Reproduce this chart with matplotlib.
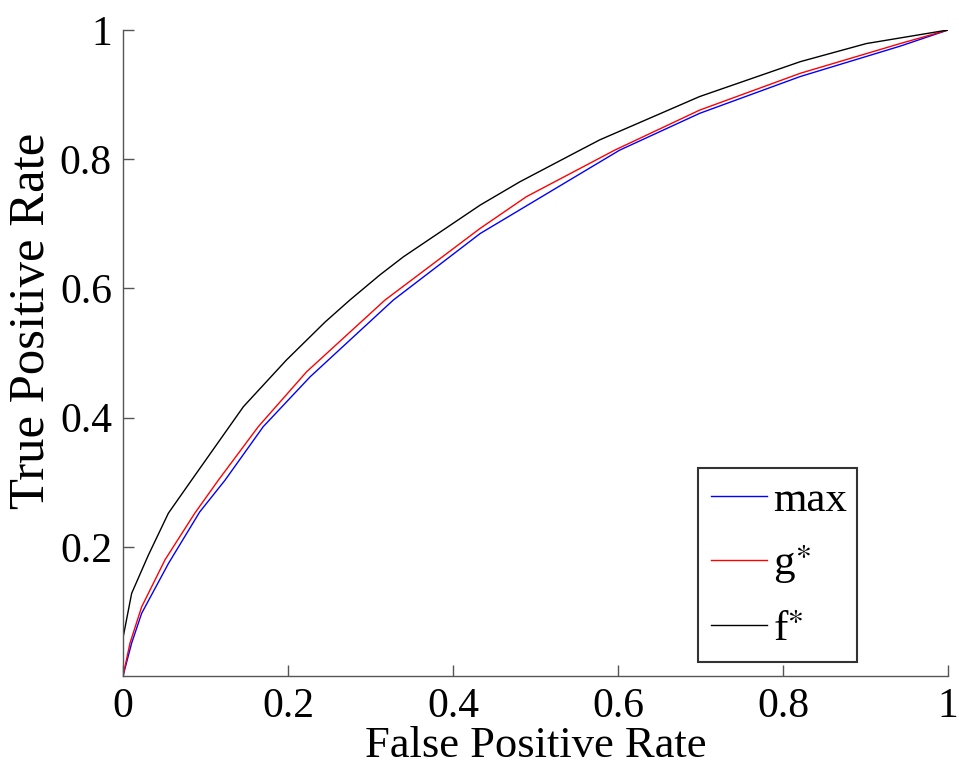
import matplotlib
matplotlib.use("Agg")
import matplotlib.pyplot as plt

plt.rcParams['font.family'] = ['Liberation Serif', 'DejaVu Serif']
plt.rcParams['mathtext.fontset'] = 'stix'

# Data
fpr_max = [0, 0.0105, 0.0226, 0.055, 0.093, 0.1236, 0.170, 0.2267, 0.3277, 0.433, 0.602, 0.699, 0.821, 0.942, 1.0]
tpr_max = [0, 0.051, 0.097, 0.174, 0.254, 0.303, 0.386, 0.463, 0.582, 0.685, 0.814, 0.871, 0.928, 0.975, 1.0]

fpr_g = [0, 0.0085, 0.0226, 0.051, 0.087, 0.1155, 0.164, 0.2226, 0.3176, 0.433, 0.489, 0.596, 0.699, 0.821, 0.942, 1.0]
tpr_g = [0, 0.051, 0.107, 0.180, 0.252, 0.303, 0.386, 0.471, 0.582, 0.693, 0.742, 0.814, 0.876, 0.933, 0.979, 1.0]

fpr_f = [0, 0, 0.0105, 0.0307, 0.055, 0.083, 0.146, 0.198, 0.245, 0.275, 0.3115, 0.34, 0.433, 0.481, 0.554, 0.578, 0.699, 0.821, 0.901, 1.0]
tpr_f = [0, 0.059, 0.128, 0.187, 0.252, 0.303, 0.417, 0.489, 0.548, 0.582, 0.621, 0.649, 0.729, 0.765, 0.814, 0.830, 0.897, 0.951, 0.979, 1.0]

labels = ['max', r'g$^{\ast}$', r'f$^{\ast}$']
xticks = [0, 0.2, 0.4, 0.6, 0.8, 1]
xticklabels = ['0', '0.2', '0.4', '0.6', '0.8', '1']
yticks = [0.2, 0.4, 0.6, 0.8, 1]
yticklabels = ['0.2', '0.4', '0.6', '0.8', '1']

fig = plt.figure(figsize=(9.59, 7.65), dpi=100)
ax = fig.add_axes([123/959, 1-676/765, 825/959, 646/765])

ax.plot(fpr_max, tpr_max, color='blue', lw=1.0, label=labels[0])
ax.plot(fpr_g, tpr_g, color='red', lw=1.0, label=labels[1])
ax.plot(fpr_f, tpr_f, color='black', lw=1.0, label=labels[2])

ax.set_xlim(0, 1)
ax.set_ylim(0, 1)
ax.spines['top'].set_visible(False)
ax.spines['right'].set_visible(False)
for s in ['left', 'bottom']:
    ax.spines[s].set_color('#555555')
    ax.spines[s].set_linewidth(1.0)
ax.set_xticks(xticks)
ax.set_xticklabels(xticklabels)
ax.set_yticks(yticks)
ax.set_yticklabels(yticklabels)
ax.tick_params(direction='in', length=8, width=1.0, color='#555555', labelsize=30, pad=8)
ax.set_xlabel('False Positive Rate', fontsize=32, labelpad=0)
ax.set_ylabel('True Positive Rate', fontsize=36.5)
ax.yaxis.set_label_coords(-0.082, 0.55)

leg = ax.legend(loc='lower left', bbox_to_anchor=(0.697, 0.0217, 0.193, 0.325),
                mode='expand', fontsize=31, handlelength=1.3, handletextpad=0.15,
                labelspacing=0.55, borderaxespad=0, fancybox=False, frameon=True,
                borderpad=0.3)
leg.get_frame().set_edgecolor('black')
leg.get_frame().set_linewidth(1.5)

fig.savefig('out.png', dpi=100)
